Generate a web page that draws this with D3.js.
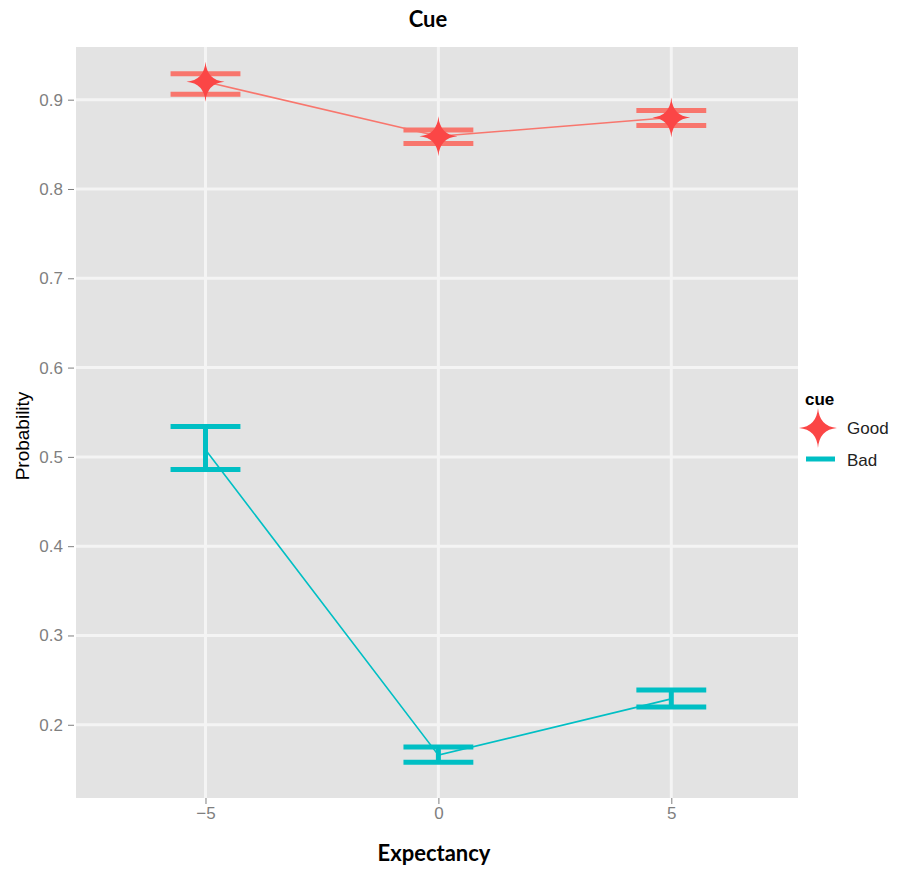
<!DOCTYPE html>
<html>
<head>
<meta charset="utf-8">
<script src="https://cdn.jsdelivr.net/npm/d3@7"></script>
<style>
  body { margin: 0; background: #fff; }
  svg { display: block; }
</style>
</head>
<body>
<div id="plot"></div>
<script>
// Data
const expectancy = [-5, 0, 5];
const goodMean = [0.920, 0.859, 0.880];
const goodLow  = [0.906, 0.851, 0.871];
const goodHigh = [0.929, 0.866, 0.888];
const badMean  = [0.508, 0.166, 0.229];
const badLow   = [0.486, 0.158, 0.220];
const badHigh  = [0.534, 0.175, 0.239];
const yTicks = [0.2, 0.3, 0.4, 0.5, 0.6, 0.7, 0.8, 0.9];
const xTicks = [-5, 0, 5];

const width = 899, height = 869;
const panel = {left: 76, right: 798, top: 47, bottom: 798};

const svg = d3.select("#plot").append("svg")
    .attr("width", width)
    .attr("height", height);

const x = d3.scaleLinear().domain([-7.78, 7.72]).range([panel.left, panel.right]);
const y = d3.scaleLinear().domain([0.118, 0.959]).range([panel.bottom, panel.top]);

// Panel background
svg.append("rect")
    .attr("x", panel.left).attr("y", panel.top)
    .attr("width", panel.right - panel.left)
    .attr("height", panel.bottom - panel.top)
    .attr("fill", "#e3e3e3");

// Grid lines
svg.selectAll(".hgrid").data(yTicks).enter().append("line")
    .attr("x1", panel.left).attr("x2", panel.right)
    .attr("y1", d => y(d)).attr("y2", d => y(d))
    .attr("stroke", "#f4f4f4").attr("stroke-width", 3);
svg.selectAll(".vgrid").data(xTicks).enter().append("line")
    .attr("y1", panel.top).attr("y2", panel.bottom)
    .attr("x1", d => x(d)).attr("x2", d => x(d))
    .attr("stroke", "#f4f4f4").attr("stroke-width", 3);

// Axes
const yAxis = svg.append("g")
    .attr("transform", `translate(${panel.left - 2},0)`)
    .call(d3.axisLeft(y).tickValues(yTicks).tickFormat(d3.format(".1f")).tickSize(6).tickPadding(5));
const xAxis = svg.append("g")
    .attr("transform", `translate(0,${panel.bottom})`)
    .call(d3.axisBottom(x).tickValues(xTicks).tickFormat(d => d < 0 ? "\u2212" + Math.abs(d) : d).tickSize(6).tickPadding(3));
[yAxis, xAxis].forEach(a => {
    a.select(".domain").remove();
    a.selectAll(".tick line").attr("stroke", "#7f7f7f");
    a.selectAll("text")
        .attr("fill", "#7f7f7f")
        .style("font-family", "Liberation Sans, Arial, sans-serif")
        .style("font-size", "17px");
});

// Series
const capHalf = 0.75;
function drawSeries(mean, low, high, color) {
    const g = svg.append("g");
    expectancy.forEach((e, i) => {
        [low[i], high[i]].forEach(v => {
            g.append("line")
                .attr("x1", x(e - capHalf)).attr("x2", x(e + capHalf))
                .attr("y1", y(v)).attr("y2", y(v))
                .attr("stroke", color).attr("stroke-width", 5);
        });
        g.append("line")
            .attr("x1", x(e)).attr("x2", x(e))
            .attr("y1", y(low[i])).attr("y2", y(high[i]))
            .attr("stroke", color).attr("stroke-width", 5);
    });
    g.append("path")
        .datum(expectancy.map((e, i) => [e, mean[i]]))
        .attr("fill", "none")
        .attr("stroke", color)
        .attr("stroke-width", 1.6)
        .attr("d", d3.line().x(d => x(d[0])).y(d => y(d[1])));
    return g;
}

// 4-pointed star with concave sides
function starPath(cx, cy, rx, ry, inner) {
    const p = d3.path();
    p.moveTo(cx, cy - ry);
    p.quadraticCurveTo(cx + inner, cy - inner, cx + rx, cy);
    p.quadraticCurveTo(cx + inner, cy + inner, cx, cy + ry);
    p.quadraticCurveTo(cx - inner, cy + inner, cx - rx, cy);
    p.quadraticCurveTo(cx - inner, cy - inner, cx, cy - ry);
    p.closePath();
    return p.toString();
}

drawSeries(badMean, badLow, badHigh, "#00bfc4");
const good = drawSeries(goodMean, goodLow, goodHigh, "#f8766d");
good.selectAll(".star")
    .data(expectancy.map((e, i) => [e, goodMean[i]]))
    .enter().append("path")
    .attr("d", d => starPath(x(d[0]), y(d[1]), 19, 20, 1.5))
    .attr("fill", "#fb4646");

// Titles
svg.append("text")
    .attr("x", 428).attr("y", 27)
    .attr("text-anchor", "middle")
    .style("font-family", "Lato, 'Open Sans', sans-serif")
    .style("font-weight", "bold")
    .style("font-size", "22px")
    .text("Cue");
svg.append("text")
    .attr("x", 434).attr("y", 861)
    .attr("text-anchor", "middle")
    .style("font-family", "Lato, 'Open Sans', sans-serif")
    .style("font-weight", "bold")
    .style("font-size", "22px")
    .text("Expectancy");
svg.append("text")
    .attr("transform", "translate(29,436) rotate(-90)")
    .attr("text-anchor", "middle")
    .style("font-family", "Liberation Sans, Arial, sans-serif")
    .style("font-size", "19px")
    .text("Probability");

// Legend
const legend = svg.append("g");
legend.append("text")
    .attr("x", 805).attr("y", 405)
    .style("font-family", "Liberation Sans, Arial, sans-serif")
    .style("font-weight", "bold")
    .style("font-size", "17px")
    .text("cue");
legend.append("path")
    .attr("d", starPath(818, 428, 19, 20, 1.5))
    .attr("fill", "#fb4646");
legend.append("line")
    .attr("x1", 806).attr("x2", 835)
    .attr("y1", 459).attr("y2", 459)
    .attr("stroke", "#00bfc4").attr("stroke-width", 5);
legend.selectAll(".lab").data(["Good", "Bad"]).enter().append("text")
    .attr("x", 847)
    .attr("y", (d, i) => 434 + i * 32)
    .style("font-family", "Liberation Sans, Arial, sans-serif")
    .style("font-size", "17px")
    .attr("fill", "#222")
    .text(d => d);
</script>
</body>
</html>
